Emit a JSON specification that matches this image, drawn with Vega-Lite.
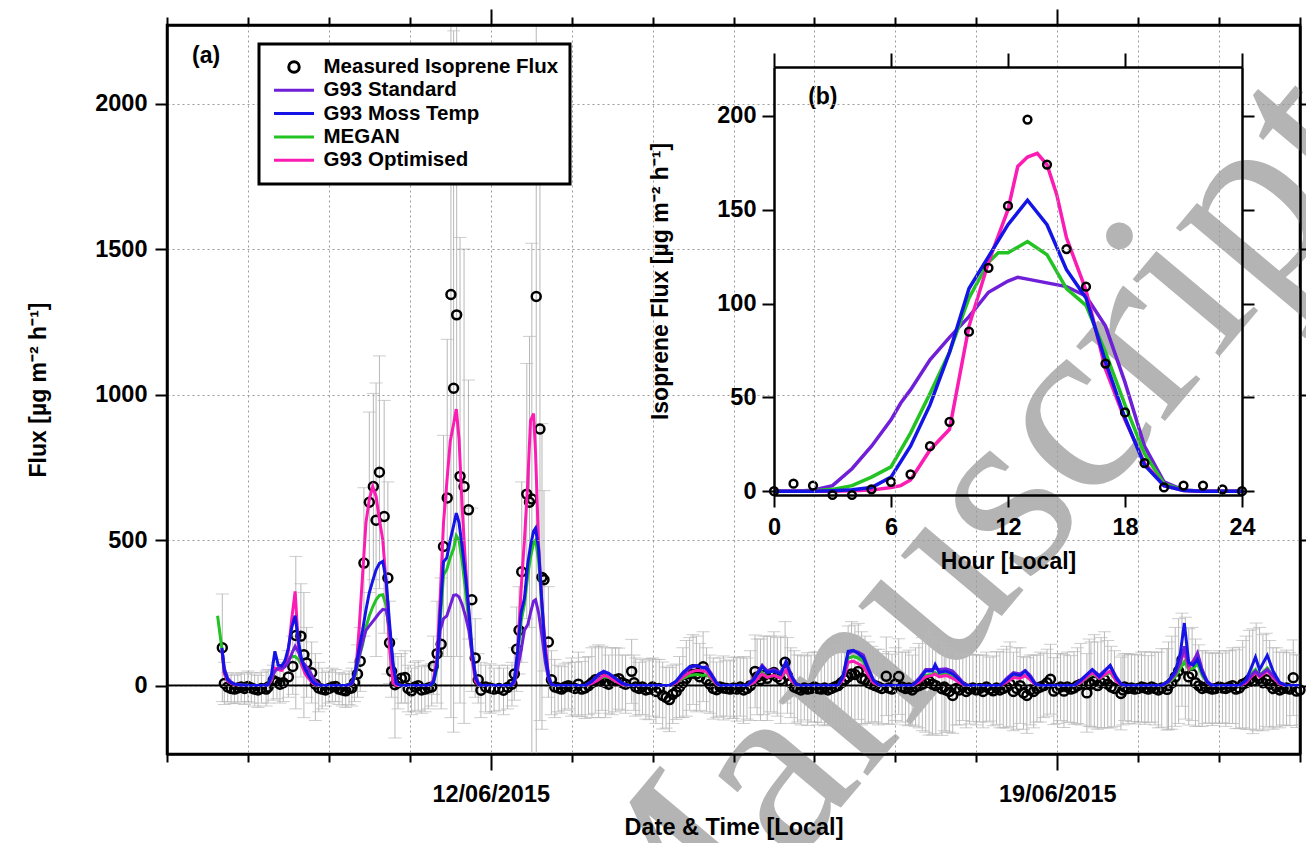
{
"$schema": "https://vega.github.io/schema/vega-lite/v6.json",
"width": 1133, "height": 729,
"autosize": {"type": "none"},
"padding": {"left": 167, "top": 25, "right": 6, "bottom": 89},
"background": "white",
"config": {
  "font": "Liberation Sans",
  "view": {"stroke": "black", "strokeWidth": 2.5},
  "axis": {"labelFont": "Liberation Sans", "labelFontSize": 23.5, "labelFontWeight": "bold", "labelColor": "black",
    "titleFont": "Liberation Sans", "titleFontSize": 23, "titleFontWeight": "bold", "titleColor": "black",
    "tickColor": "black", "tickWidth": 2, "domainColor": "black", "domainWidth": 2.5,
    "gridColor": "#9a9a9a", "gridDash": [2, 3], "gridWidth": 1, "labelFlush": false, "labelOverlap": false, "zindex": 1}
},
"datasets": {
"meas": [
{"t":"2015-06-08T16:24","m":130,"lo":-55,"hi":315},
{"t":"2015-06-08T17:00","m":7,"lo":-65,"hi":80},
{"t":"2015-06-08T18:00","m":-5,"lo":-55,"hi":45},
{"t":"2015-06-08T19:00","m":-10,"lo":-60,"hi":40},
{"t":"2015-06-08T20:00","m":-12,"lo":-62,"hi":35},
{"t":"2015-06-08T21:00","m":-8,"lo":-60,"hi":40},
{"t":"2015-06-08T22:00","m":-5,"lo":-55,"hi":45},
{"t":"2015-06-08T23:00","m":-10,"lo":-65,"hi":40},
{"t":"2015-06-09T00:00","m":-3,"lo":-55,"hi":50},
{"t":"2015-06-09T01:00","m":-8,"lo":-60,"hi":45},
{"t":"2015-06-09T02:00","m":-12,"lo":-70,"hi":40},
{"t":"2015-06-09T03:00","m":-15,"lo":-75,"hi":35},
{"t":"2015-06-09T04:00","m":-10,"lo":-60,"hi":45},
{"t":"2015-06-09T05:24","m":-12,"lo":-70,"hi":50},
{"t":"2015-06-09T06:00","m":-5,"lo":-60,"hi":55},
{"t":"2015-06-09T07:30","m":18,"lo":-50,"hi":70},
{"t":"2015-06-09T08:36","m":12,"lo":-45,"hi":80},
{"t":"2015-06-09T09:30","m":5,"lo":-60,"hi":70},
{"t":"2015-06-09T10:30","m":10,"lo":-55,"hi":90},
{"t":"2015-06-09T12:00","m":30,"lo":-40,"hi":120},
{"t":"2015-06-09T13:18","m":66,"lo":-30,"hi":170},
{"t":"2015-06-09T14:12","m":172,"lo":-80,"hi":444},
{"t":"2015-06-09T15:42","m":170,"lo":30,"hi":350},
{"t":"2015-06-09T16:36","m":106,"lo":-110,"hi":320},
{"t":"2015-06-09T17:24","m":78,"lo":-40,"hi":200},
{"t":"2015-06-09T18:54","m":44,"lo":-60,"hi":150},
{"t":"2015-06-09T20:00","m":5,"lo":-120,"hi":110},
{"t":"2015-06-09T21:00","m":-8,"lo":-90,"hi":80},
{"t":"2015-06-09T22:00","m":-12,"lo":-80,"hi":60},
{"t":"2015-06-09T23:00","m":-15,"lo":-70,"hi":45},
{"t":"2015-06-10T00:00","m":-10,"lo":-60,"hi":50},
{"t":"2015-06-10T01:00","m":-5,"lo":-55,"hi":60},
{"t":"2015-06-10T02:00","m":-3,"lo":-55,"hi":55},
{"t":"2015-06-10T03:00","m":-12,"lo":-65,"hi":45},
{"t":"2015-06-10T04:00","m":-15,"lo":-70,"hi":40},
{"t":"2015-06-10T05:00","m":-18,"lo":-75,"hi":40},
{"t":"2015-06-10T06:00","m":-10,"lo":-65,"hi":50},
{"t":"2015-06-10T06:48","m":-8,"lo":-70,"hi":60},
{"t":"2015-06-10T07:36","m":10,"lo":-55,"hi":80},
{"t":"2015-06-10T08:30","m":40,"lo":-40,"hi":140},
{"t":"2015-06-10T09:18","m":84,"lo":-20,"hi":200},
{"t":"2015-06-10T10:24","m":421,"lo":170,"hi":680},
{"t":"2015-06-10T12:00","m":630,"lo":320,"hi":940},
{"t":"2015-06-10T13:12","m":684,"lo":364,"hi":1004},
{"t":"2015-06-10T14:00","m":568,"lo":100,"hi":1040},
{"t":"2015-06-10T15:00","m":733,"lo":333,"hi":1133},
{"t":"2015-06-10T16:24","m":581,"lo":180,"hi":980},
{"t":"2015-06-10T17:30","m":370,"lo":40,"hi":700},
{"t":"2015-06-10T18:00","m":147,"lo":7,"hi":290},
{"t":"2015-06-10T18:36","m":49,"lo":-40,"hi":160},
{"t":"2015-06-10T19:36","m":3,"lo":-180,"hi":110},
{"t":"2015-06-10T20:30","m":10,"lo":-80,"hi":100},
{"t":"2015-06-10T21:30","m":25,"lo":-60,"hi":110},
{"t":"2015-06-10T22:36","m":28,"lo":-60,"hi":120},
{"t":"2015-06-10T23:30","m":-10,"lo":-90,"hi":70},
{"t":"2015-06-11T00:30","m":-18,"lo":-100,"hi":60},
{"t":"2015-06-11T01:30","m":-5,"lo":-90,"hi":80},
{"t":"2015-06-11T02:30","m":0,"lo":-85,"hi":85},
{"t":"2015-06-11T03:30","m":-15,"lo":-95,"hi":65},
{"t":"2015-06-11T04:30","m":-12,"lo":-90,"hi":70},
{"t":"2015-06-11T05:30","m":-8,"lo":-80,"hi":70},
{"t":"2015-06-11T06:30","m":-5,"lo":-70,"hi":75},
{"t":"2015-06-11T07:00","m":67,"lo":-30,"hi":170},
{"t":"2015-06-11T08:06","m":110,"lo":-60,"hi":290},
{"t":"2015-06-11T09:18","m":142,"lo":-80,"hi":370},
{"t":"2015-06-11T10:00","m":478,"lo":100,"hi":860},
{"t":"2015-06-11T11:06","m":645,"lo":100,"hi":1190},
{"t":"2015-06-11T12:12","m":1344,"lo":-110,"hi":2800},
{"t":"2015-06-11T13:00","m":1022,"lo":-160,"hi":2250},
{"t":"2015-06-11T13:54","m":1274,"lo":100,"hi":2450},
{"t":"2015-06-11T14:54","m":719,"lo":-60,"hi":1540},
{"t":"2015-06-11T16:06","m":684,"lo":-130,"hi":1500},
{"t":"2015-06-11T17:24","m":604,"lo":160,"hi":1050},
{"t":"2015-06-11T18:24","m":295,"lo":-20,"hi":610},
{"t":"2015-06-11T19:24","m":95,"lo":-40,"hi":230},
{"t":"2015-06-11T20:18","m":20,"lo":-60,"hi":110},
{"t":"2015-06-11T21:06","m":-16,"lo":-110,"hi":80},
{"t":"2015-06-11T22:30","m":-5,"lo":-90,"hi":70},
{"t":"2015-06-11T23:48","m":-8,"lo":-95,"hi":75},
{"t":"2015-06-12T01:00","m":-12,"lo":-90,"hi":60},
{"t":"2015-06-12T02:30","m":-10,"lo":-85,"hi":70},
{"t":"2015-06-12T03:48","m":-16,"lo":-100,"hi":60},
{"t":"2015-06-12T05:00","m":-6,"lo":-80,"hi":70},
{"t":"2015-06-12T06:18","m":5,"lo":-70,"hi":80},
{"t":"2015-06-12T07:00","m":40,"lo":-50,"hi":130},
{"t":"2015-06-12T07:42","m":125,"lo":-20,"hi":270},
{"t":"2015-06-12T08:24","m":190,"lo":40,"hi":340},
{"t":"2015-06-12T09:12","m":391,"lo":80,"hi":700},
{"t":"2015-06-12T10:42","m":658,"lo":230,"hi":1107},
{"t":"2015-06-12T11:30","m":630,"lo":200,"hi":1200},
{"t":"2015-06-12T12:12","m":641,"lo":-240,"hi":1520},
{"t":"2015-06-12T13:30","m":1337,"lo":-240,"hi":2900},
{"t":"2015-06-12T14:36","m":882,"lo":-120,"hi":1800},
{"t":"2015-06-12T15:12","m":372,"lo":-150,"hi":900},
{"t":"2015-06-12T15:48","m":364,"lo":50,"hi":670},
{"t":"2015-06-12T17:06","m":150,"lo":-40,"hi":340},
{"t":"2015-06-12T18:00","m":20,"lo":-100,"hi":120},
{"t":"2015-06-12T19:00","m":-5,"lo":-110,"hi":90},
{"t":"2015-06-12T20:00","m":-8,"lo":-90,"hi":70},
{"t":"2015-06-12T21:00","m":-12,"lo":-95,"hi":65},
{"t":"2015-06-12T22:00","m":-5,"lo":-85,"hi":75},
{"t":"2015-06-12T23:00","m":0,"lo":-80,"hi":80},
{"t":"2015-06-13T00:00","m":-5,"lo":-105,"hi":95},
{"t":"2015-06-13T01:00","m":-10,"lo":-100,"hi":80},
{"t":"2015-06-13T02:00","m":5,"lo":-105,"hi":115},
{"t":"2015-06-13T03:00","m":-12,"lo":-107,"hi":83},
{"t":"2015-06-13T04:00","m":-8,"lo":-113,"hi":97},
{"t":"2015-06-13T05:00","m":0,"lo":-100,"hi":100},
{"t":"2015-06-13T06:00","m":10,"lo":-110,"hi":130},
{"t":"2015-06-13T07:00","m":20,"lo":-95,"hi":135},
{"t":"2015-06-13T08:00","m":15,"lo":-110,"hi":140},
{"t":"2015-06-13T09:00","m":25,"lo":-85,"hi":135},
{"t":"2015-06-13T10:00","m":10,"lo":-110,"hi":130},
{"t":"2015-06-13T11:00","m":5,"lo":-95,"hi":105},
{"t":"2015-06-13T12:00","m":15,"lo":-100,"hi":130},
{"t":"2015-06-13T13:00","m":20,"lo":-90,"hi":130},
{"t":"2015-06-13T14:00","m":24,"lo":-81,"hi":129},
{"t":"2015-06-13T15:00","m":10,"lo":-85,"hi":105},
{"t":"2015-06-13T16:00","m":5,"lo":-95,"hi":105},
{"t":"2015-06-13T17:48","m":49,"lo":-61,"hi":159},
{"t":"2015-06-13T18:30","m":10,"lo":-85,"hi":105},
{"t":"2015-06-13T19:00","m":-5,"lo":-105,"hi":95},
{"t":"2015-06-13T20:00","m":-10,"lo":-100,"hi":80},
{"t":"2015-06-13T21:00","m":-5,"lo":-100,"hi":90},
{"t":"2015-06-13T22:00","m":-15,"lo":-115,"hi":85},
{"t":"2015-06-13T23:00","m":-12,"lo":-117,"hi":93},
{"t":"2015-06-14T00:00","m":-5,"lo":-105,"hi":95},
{"t":"2015-06-14T01:00","m":-20,"lo":-130,"hi":90},
{"t":"2015-06-14T02:00","m":-10,"lo":-110,"hi":90},
{"t":"2015-06-14T03:00","m":-34,"lo":-149,"hi":81},
{"t":"2015-06-14T04:00","m":-41,"lo":-146,"hi":64},
{"t":"2015-06-14T05:00","m":-48,"lo":-158,"hi":62},
{"t":"2015-06-14T06:00","m":-30,"lo":-130,"hi":70},
{"t":"2015-06-14T07:00","m":-21,"lo":-116,"hi":74},
{"t":"2015-06-14T08:00","m":-5,"lo":-110,"hi":100},
{"t":"2015-06-14T09:00","m":10,"lo":-110,"hi":130},
{"t":"2015-06-14T10:00","m":25,"lo":-105,"hi":155},
{"t":"2015-06-14T11:00","m":40,"lo":-85,"hi":165},
{"t":"2015-06-14T12:00","m":55,"lo":-65,"hi":175},
{"t":"2015-06-14T13:00","m":40,"lo":-90,"hi":170},
{"t":"2015-06-14T14:00","m":30,"lo":-85,"hi":145},
{"t":"2015-06-14T15:00","m":65,"lo":-55,"hi":185},
{"t":"2015-06-14T16:00","m":20,"lo":-90,"hi":130},
{"t":"2015-06-14T17:00","m":5,"lo":-95,"hi":105},
{"t":"2015-06-14T18:00","m":-10,"lo":-115,"hi":95},
{"t":"2015-06-14T19:00","m":-14,"lo":-109,"hi":81},
{"t":"2015-06-14T20:00","m":-5,"lo":-105,"hi":95},
{"t":"2015-06-14T21:00","m":-8,"lo":-118,"hi":102},
{"t":"2015-06-14T22:00","m":-10,"lo":-105,"hi":85},
{"t":"2015-06-14T23:00","m":-12,"lo":-112,"hi":88},
{"t":"2015-06-15T00:00","m":-8,"lo":-113,"hi":97},
{"t":"2015-06-15T01:00","m":-12,"lo":-122,"hi":98},
{"t":"2015-06-15T02:00","m":-5,"lo":-105,"hi":95},
{"t":"2015-06-15T03:00","m":-15,"lo":-130,"hi":100},
{"t":"2015-06-15T04:00","m":-10,"lo":-115,"hi":95},
{"t":"2015-06-15T05:00","m":0,"lo":-120,"hi":120},
{"t":"2015-06-15T06:24","m":49,"lo":-76,"hi":174},
{"t":"2015-06-15T07:00","m":30,"lo":-100,"hi":160},
{"t":"2015-06-15T08:00","m":20,"lo":-120,"hi":160},
{"t":"2015-06-15T09:00","m":35,"lo":-100,"hi":170},
{"t":"2015-06-15T10:00","m":25,"lo":-120,"hi":170},
{"t":"2015-06-15T11:00","m":40,"lo":-90,"hi":170},
{"t":"2015-06-15T12:00","m":45,"lo":-95,"hi":185},
{"t":"2015-06-15T13:00","m":30,"lo":-105,"hi":165},
{"t":"2015-06-15T14:00","m":20,"lo":-130,"hi":170},
{"t":"2015-06-15T15:18","m":80,"lo":-60,"hi":220},
{"t":"2015-06-15T16:00","m":35,"lo":-95,"hi":165},
{"t":"2015-06-15T17:00","m":10,"lo":-110,"hi":130},
{"t":"2015-06-15T18:00","m":-5,"lo":-130,"hi":120},
{"t":"2015-06-15T19:00","m":-10,"lo":-125,"hi":105},
{"t":"2015-06-15T20:00","m":-15,"lo":-135,"hi":105},
{"t":"2015-06-15T21:00","m":-8,"lo":-118,"hi":102},
{"t":"2015-06-15T22:00","m":-12,"lo":-137,"hi":113},
{"t":"2015-06-15T23:00","m":-10,"lo":-125,"hi":105},
{"t":"2015-06-16T00:00","m":-5,"lo":-125,"hi":115},
{"t":"2015-06-16T01:00","m":-10,"lo":-135,"hi":115},
{"t":"2015-06-16T02:00","m":-12,"lo":-127,"hi":103},
{"t":"2015-06-16T03:00","m":-8,"lo":-138,"hi":122},
{"t":"2015-06-16T04:00","m":-15,"lo":-135,"hi":105},
{"t":"2015-06-16T05:00","m":-10,"lo":-135,"hi":115},
{"t":"2015-06-16T06:00","m":-5,"lo":-135,"hi":125},
{"t":"2015-06-16T07:00","m":0,"lo":-140,"hi":140},
{"t":"2015-06-16T08:00","m":10,"lo":-140,"hi":160},
{"t":"2015-06-16T09:00","m":20,"lo":-140,"hi":180},
{"t":"2015-06-16T10:00","m":30,"lo":-145,"hi":205},
{"t":"2015-06-16T11:00","m":40,"lo":-140,"hi":220},
{"t":"2015-06-16T12:00","m":38,"lo":-132,"hi":208},
{"t":"2015-06-16T13:00","m":49,"lo":-116,"hi":214},
{"t":"2015-06-16T14:00","m":25,"lo":-135,"hi":185},
{"t":"2015-06-16T15:00","m":20,"lo":-130,"hi":170},
{"t":"2015-06-16T16:00","m":10,"lo":-130,"hi":150},
{"t":"2015-06-16T17:00","m":5,"lo":-125,"hi":135},
{"t":"2015-06-16T18:00","m":0,"lo":-125,"hi":125},
{"t":"2015-06-16T19:00","m":-5,"lo":-135,"hi":125},
{"t":"2015-06-16T20:00","m":-10,"lo":-130,"hi":110},
{"t":"2015-06-16T21:18","m":32,"lo":-103,"hi":167},
{"t":"2015-06-16T22:00","m":-8,"lo":-133,"hi":117},
{"t":"2015-06-16T23:00","m":-12,"lo":-132,"hi":108},
{"t":"2015-06-17T00:00","m":5,"lo":-120,"hi":130},
{"t":"2015-06-17T01:00","m":31,"lo":-99,"hi":161},
{"t":"2015-06-17T02:00","m":-5,"lo":-125,"hi":115},
{"t":"2015-06-17T03:00","m":-10,"lo":-135,"hi":115},
{"t":"2015-06-17T04:00","m":-8,"lo":-138,"hi":122},
{"t":"2015-06-17T05:00","m":-15,"lo":-135,"hi":105},
{"t":"2015-06-17T06:00","m":-5,"lo":-140,"hi":130},
{"t":"2015-06-17T07:00","m":0,"lo":-145,"hi":145},
{"t":"2015-06-17T08:00","m":5,"lo":-155,"hi":165},
{"t":"2015-06-17T09:00","m":10,"lo":-160,"hi":180},
{"t":"2015-06-17T10:00","m":15,"lo":-170,"hi":200},
{"t":"2015-06-17T11:00","m":5,"lo":-170,"hi":180},
{"t":"2015-06-17T12:00","m":0,"lo":-165,"hi":165},
{"t":"2015-06-17T13:48","m":-11,"lo":-171,"hi":149},
{"t":"2015-06-17T14:30","m":-5,"lo":-155,"hi":145},
{"t":"2015-06-17T15:00","m":-15,"lo":-160,"hi":130},
{"t":"2015-06-17T16:00","m":-20,"lo":-160,"hi":120},
{"t":"2015-06-17T17:00","m":-34,"lo":-164,"hi":96},
{"t":"2015-06-17T18:00","m":-10,"lo":-135,"hi":115},
{"t":"2015-06-17T19:00","m":-15,"lo":-135,"hi":105},
{"t":"2015-06-17T20:00","m":-5,"lo":-120,"hi":110},
{"t":"2015-06-17T21:00","m":-20,"lo":-145,"hi":105},
{"t":"2015-06-17T22:00","m":-12,"lo":-132,"hi":108},
{"t":"2015-06-17T23:00","m":-8,"lo":-123,"hi":107},
{"t":"2015-06-18T00:00","m":-15,"lo":-135,"hi":105},
{"t":"2015-06-18T01:00","m":-10,"lo":-125,"hi":105},
{"t":"2015-06-18T02:00","m":-20,"lo":-145,"hi":105},
{"t":"2015-06-18T03:00","m":-5,"lo":-125,"hi":115},
{"t":"2015-06-18T04:00","m":-12,"lo":-122,"hi":98},
{"t":"2015-06-18T05:00","m":-18,"lo":-138,"hi":102},
{"t":"2015-06-18T06:00","m":-8,"lo":-133,"hi":117},
{"t":"2015-06-18T07:00","m":-15,"lo":-145,"hi":115},
{"t":"2015-06-18T08:00","m":-10,"lo":-145,"hi":125},
{"t":"2015-06-18T09:00","m":-5,"lo":-145,"hi":135},
{"t":"2015-06-18T10:00","m":5,"lo":-140,"hi":150},
{"t":"2015-06-18T11:00","m":-20,"lo":-155,"hi":115},
{"t":"2015-06-18T12:00","m":-10,"lo":-150,"hi":130},
{"t":"2015-06-18T13:00","m":0,"lo":-130,"hi":130},
{"t":"2015-06-18T14:00","m":-25,"lo":-150,"hi":100},
{"t":"2015-06-18T15:00","m":-34,"lo":-164,"hi":96},
{"t":"2015-06-18T16:00","m":-15,"lo":-135,"hi":105},
{"t":"2015-06-18T17:00","m":-20,"lo":-145,"hi":105},
{"t":"2015-06-18T18:00","m":-10,"lo":-125,"hi":105},
{"t":"2015-06-18T19:00","m":-5,"lo":-125,"hi":115},
{"t":"2015-06-18T20:00","m":0,"lo":-110,"hi":110},
{"t":"2015-06-18T21:00","m":10,"lo":-105,"hi":125},
{"t":"2015-06-18T22:00","m":22,"lo":-98,"hi":142},
{"t":"2015-06-18T23:00","m":-19,"lo":-134,"hi":96},
{"t":"2015-06-19T00:00","m":-10,"lo":-130,"hi":110},
{"t":"2015-06-19T01:00","m":-5,"lo":-120,"hi":110},
{"t":"2015-06-19T02:00","m":-19,"lo":-144,"hi":106},
{"t":"2015-06-19T03:00","m":-5,"lo":-125,"hi":115},
{"t":"2015-06-19T04:00","m":-12,"lo":-127,"hi":103},
{"t":"2015-06-19T05:00","m":-8,"lo":-133,"hi":117},
{"t":"2015-06-19T06:00","m":0,"lo":-130,"hi":130},
{"t":"2015-06-19T07:00","m":5,"lo":-135,"hi":145},
{"t":"2015-06-19T08:48","m":-25,"lo":-160,"hi":110},
{"t":"2015-06-19T09:30","m":10,"lo":-140,"hi":160},
{"t":"2015-06-19T10:00","m":5,"lo":-140,"hi":150},
{"t":"2015-06-19T11:00","m":15,"lo":-145,"hi":175},
{"t":"2015-06-19T12:00","m":0,"lo":-150,"hi":150},
{"t":"2015-06-19T13:00","m":10,"lo":-145,"hi":165},
{"t":"2015-06-19T14:00","m":20,"lo":-145,"hi":185},
{"t":"2015-06-19T15:00","m":5,"lo":-145,"hi":155},
{"t":"2015-06-19T16:00","m":-5,"lo":-145,"hi":135},
{"t":"2015-06-19T17:00","m":-10,"lo":-140,"hi":120},
{"t":"2015-06-19T18:54","m":-27,"lo":-152,"hi":98},
{"t":"2015-06-19T19:30","m":-15,"lo":-135,"hi":105},
{"t":"2015-06-19T20:00","m":-5,"lo":-120,"hi":110},
{"t":"2015-06-19T21:00","m":-10,"lo":-130,"hi":110},
{"t":"2015-06-19T22:00","m":-8,"lo":-123,"hi":107},
{"t":"2015-06-19T23:00","m":-12,"lo":-132,"hi":108},
{"t":"2015-06-20T00:00","m":-10,"lo":-125,"hi":105},
{"t":"2015-06-20T01:00","m":-5,"lo":-125,"hi":115},
{"t":"2015-06-20T02:00","m":-8,"lo":-133,"hi":117},
{"t":"2015-06-20T03:00","m":-12,"lo":-127,"hi":103},
{"t":"2015-06-20T04:00","m":-5,"lo":-125,"hi":115},
{"t":"2015-06-20T05:00","m":-10,"lo":-135,"hi":115},
{"t":"2015-06-20T06:00","m":-15,"lo":-145,"hi":115},
{"t":"2015-06-20T07:00","m":-8,"lo":-143,"hi":127},
{"t":"2015-06-20T08:36","m":-13,"lo":-153,"hi":127},
{"t":"2015-06-20T09:00","m":0,"lo":-150,"hi":150},
{"t":"2015-06-20T10:00","m":10,"lo":-150,"hi":170},
{"t":"2015-06-20T11:00","m":30,"lo":-140,"hi":200},
{"t":"2015-06-20T12:00","m":50,"lo":-130,"hi":230},
{"t":"2015-06-20T13:00","m":89,"lo":-71,"hi":249},
{"t":"2015-06-20T14:00","m":60,"lo":-115,"hi":235},
{"t":"2015-06-20T15:00","m":30,"lo":-135,"hi":195},
{"t":"2015-06-20T16:00","m":40,"lo":-120,"hi":200},
{"t":"2015-06-20T17:00","m":10,"lo":-140,"hi":160},
{"t":"2015-06-20T18:00","m":0,"lo":-140,"hi":140},
{"t":"2015-06-20T19:00","m":-10,"lo":-140,"hi":120},
{"t":"2015-06-20T20:00","m":-5,"lo":-130,"hi":120},
{"t":"2015-06-20T21:00","m":-8,"lo":-128,"hi":112},
{"t":"2015-06-20T22:00","m":-12,"lo":-137,"hi":113},
{"t":"2015-06-20T23:00","m":-10,"lo":-130,"hi":110},
{"t":"2015-06-21T00:00","m":-5,"lo":-130,"hi":120},
{"t":"2015-06-21T01:00","m":-8,"lo":-128,"hi":112},
{"t":"2015-06-21T02:00","m":-10,"lo":-140,"hi":120},
{"t":"2015-06-21T03:00","m":-5,"lo":-130,"hi":120},
{"t":"2015-06-21T04:00","m":0,"lo":-130,"hi":130},
{"t":"2015-06-21T05:00","m":-12,"lo":-147,"hi":123},
{"t":"2015-06-21T06:00","m":-8,"lo":-148,"hi":132},
{"t":"2015-06-21T07:00","m":5,"lo":-145,"hi":155},
{"t":"2015-06-21T08:00","m":10,"lo":-150,"hi":170},
{"t":"2015-06-21T09:00","m":20,"lo":-150,"hi":190},
{"t":"2015-06-21T10:00","m":15,"lo":-165,"hi":195},
{"t":"2015-06-21T11:00","m":30,"lo":-155,"hi":215},
{"t":"2015-06-21T12:00","m":25,"lo":-150,"hi":200},
{"t":"2015-06-21T13:00","m":10,"lo":-155,"hi":175},
{"t":"2015-06-21T14:00","m":20,"lo":-140,"hi":180},
{"t":"2015-06-21T15:00","m":5,"lo":-145,"hi":155},
{"t":"2015-06-21T16:00","m":-10,"lo":-150,"hi":130},
{"t":"2015-06-21T17:00","m":-5,"lo":-140,"hi":130},
{"t":"2015-06-21T18:00","m":-15,"lo":-145,"hi":115},
{"t":"2015-06-21T19:00","m":-10,"lo":-135,"hi":115},
{"t":"2015-06-21T20:00","m":-8,"lo":-138,"hi":122},
{"t":"2015-06-21T21:00","m":-12,"lo":-137,"hi":113},
{"t":"2015-06-21T22:00","m":27,"lo":-103,"hi":157},
{"t":"2015-06-21T23:00","m":-19,"lo":-144,"hi":106},
{"t":"2015-06-22T00:00","m":-15,"lo":-135,"hi":105}
],
"mod": [
{"t":"2015-06-08T15:00","s":null,"mt":null,"me":240,"o":null},
{"t":"2015-06-08T16:18","s":125,"mt":130,"me":125,"o":120},
{"t":"2015-06-08T17:00","s":60,"mt":50,"me":45,"o":40},
{"t":"2015-06-08T18:00","s":25,"mt":20,"me":18,"o":15},
{"t":"2015-06-08T19:00","s":12,"mt":10,"me":10,"o":8},
{"t":"2015-06-08T20:00","s":6,"mt":5,"me":5,"o":4},
{"t":"2015-06-08T22:00","s":2,"mt":2,"me":2,"o":1},
{"t":"2015-06-09T00:00","s":0,"mt":0,"me":0,"o":0},
{"t":"2015-06-09T05:00","s":0,"mt":0,"me":0,"o":0},
{"t":"2015-06-09T06:00","s":5,"mt":3,"me":4,"o":2},
{"t":"2015-06-09T07:00","s":25,"mt":40,"me":20,"o":20},
{"t":"2015-06-09T08:00","s":50,"mt":118,"me":55,"o":60},
{"t":"2015-06-09T09:00","s":60,"mt":70,"me":60,"o":55},
{"t":"2015-06-09T10:00","s":60,"mt":68,"me":58,"o":52},
{"t":"2015-06-09T11:00","s":65,"mt":85,"me":70,"o":68},
{"t":"2015-06-09T12:00","s":80,"mt":130,"me":90,"o":120},
{"t":"2015-06-09T13:00","s":110,"mt":200,"me":100,"o":230},
{"t":"2015-06-09T14:00","s":135,"mt":240,"me":100,"o":324},
{"t":"2015-06-09T15:00","s":115,"mt":150,"me":90,"o":130},
{"t":"2015-06-09T16:00","s":85,"mt":85,"me":70,"o":70},
{"t":"2015-06-09T17:00","s":70,"mt":55,"me":50,"o":40},
{"t":"2015-06-09T18:00","s":55,"mt":35,"me":35,"o":25},
{"t":"2015-06-09T19:00","s":35,"mt":15,"me":18,"o":10},
{"t":"2015-06-09T20:00","s":15,"mt":5,"me":6,"o":3},
{"t":"2015-06-09T21:00","s":5,"mt":1,"me":2,"o":1},
{"t":"2015-06-09T22:00","s":0,"mt":0,"me":0,"o":0},
{"t":"2015-06-10T05:00","s":0,"mt":0,"me":0,"o":0},
{"t":"2015-06-10T06:00","s":3,"mt":2,"me":2,"o":1},
{"t":"2015-06-10T07:00","s":15,"mt":10,"me":10,"o":8},
{"t":"2015-06-10T08:00","s":50,"mt":60,"me":40,"o":50},
{"t":"2015-06-10T09:00","s":100,"mt":130,"me":100,"o":200},
{"t":"2015-06-10T10:00","s":150,"mt":190,"me":140,"o":380},
{"t":"2015-06-10T11:00","s":190,"mt":260,"me":200,"o":560},
{"t":"2015-06-10T12:00","s":205,"mt":320,"me":240,"o":640},
{"t":"2015-06-10T13:00","s":220,"mt":360,"me":270,"o":684},
{"t":"2015-06-10T14:00","s":235,"mt":398,"me":295,"o":650},
{"t":"2015-06-10T15:00","s":250,"mt":420,"me":310,"o":570},
{"t":"2015-06-10T16:00","s":262,"mt":427,"me":312,"o":500},
{"t":"2015-06-10T17:00","s":260,"mt":360,"me":275,"o":350},
{"t":"2015-06-10T18:00","s":195,"mt":215,"me":170,"o":130},
{"t":"2015-06-10T19:00","s":70,"mt":79,"me":57,"o":10},
{"t":"2015-06-10T20:00","s":8,"mt":8,"me":6,"o":0},
{"t":"2015-06-10T21:00","s":2,"mt":1,"me":1,"o":0},
{"t":"2015-06-10T22:00","s":0,"mt":0,"me":0,"o":0},
{"t":"2015-06-11T05:00","s":0,"mt":0,"me":0,"o":0},
{"t":"2015-06-11T06:00","s":2,"mt":2,"me":2,"o":1},
{"t":"2015-06-11T07:00","s":15,"mt":10,"me":8,"o":20},
{"t":"2015-06-11T08:00","s":70,"mt":66,"me":55,"o":90},
{"t":"2015-06-11T08:30","s":120,"mt":150,"me":130,"o":190},
{"t":"2015-06-11T09:00","s":190,"mt":250,"me":220,"o":300},
{"t":"2015-06-11T10:00","s":230,"mt":425,"me":380,"o":560},
{"t":"2015-06-11T11:00","s":240,"mt":440,"me":400,"o":700},
{"t":"2015-06-11T12:00","s":275,"mt":500,"me":440,"o":840},
{"t":"2015-06-11T13:00","s":310,"mt":550,"me":470,"o":900},
{"t":"2015-06-11T13:48","s":312,"mt":593,"me":515,"o":950},
{"t":"2015-06-11T14:36","s":305,"mt":560,"me":500,"o":850},
{"t":"2015-06-11T15:30","s":280,"mt":480,"me":430,"o":620},
{"t":"2015-06-11T16:30","s":240,"mt":380,"me":330,"o":420},
{"t":"2015-06-11T17:30","s":190,"mt":260,"me":220,"o":250},
{"t":"2015-06-11T18:30","s":110,"mt":120,"me":100,"o":90},
{"t":"2015-06-11T19:30","s":35,"mt":25,"me":25,"o":15},
{"t":"2015-06-11T20:30","s":5,"mt":3,"me":3,"o":1},
{"t":"2015-06-11T21:30","s":0,"mt":0,"me":0,"o":0},
{"t":"2015-06-12T06:00","s":0,"mt":0,"me":0,"o":0},
{"t":"2015-06-12T07:00","s":10,"mt":20,"me":15,"o":10},
{"t":"2015-06-12T08:00","s":60,"mt":120,"me":100,"o":120},
{"t":"2015-06-12T09:00","s":120,"mt":250,"me":220,"o":330},
{"t":"2015-06-12T10:00","s":190,"mt":300,"me":280,"o":500},
{"t":"2015-06-12T11:00","s":210,"mt":420,"me":380,"o":700},
{"t":"2015-06-12T11:48","s":250,"mt":480,"me":440,"o":910},
{"t":"2015-06-12T12:42","s":290,"mt":530,"me":490,"o":935},
{"t":"2015-06-12T13:18","s":295,"mt":541,"me":500,"o":800},
{"t":"2015-06-12T14:12","s":250,"mt":470,"me":430,"o":480},
{"t":"2015-06-12T15:12","s":170,"mt":280,"me":270,"o":280},
{"t":"2015-06-12T16:12","s":80,"mt":110,"me":100,"o":140},
{"t":"2015-06-12T17:12","s":20,"mt":30,"me":25,"o":30},
{"t":"2015-06-12T18:00","s":3,"mt":5,"me":3,"o":5},
{"t":"2015-06-12T19:00","s":0,"mt":0,"me":0,"o":0},
{"t":"2015-06-13T04:00","s":0,"mt":0,"me":0,"o":0},
{"t":"2015-06-13T06:00","s":15,"mt":15,"me":10,"o":8},
{"t":"2015-06-13T08:00","s":35,"mt":40,"me":22,"o":20},
{"t":"2015-06-13T09:30","s":49,"mt":49,"me":30,"o":35},
{"t":"2015-06-13T11:00","s":40,"mt":42,"me":28,"o":30},
{"t":"2015-06-13T13:00","s":25,"mt":25,"me":15,"o":15},
{"t":"2015-06-13T15:00","s":8,"mt":8,"me":5,"o":4},
{"t":"2015-06-13T17:00","s":0,"mt":0,"me":0,"o":0},
{"t":"2015-06-14T05:00","s":0,"mt":0,"me":0,"o":0},
{"t":"2015-06-14T07:00","s":15,"mt":15,"me":10,"o":10},
{"t":"2015-06-14T09:00","s":40,"mt":45,"me":25,"o":30},
{"t":"2015-06-14T11:00","s":60,"mt":65,"me":35,"o":45},
{"t":"2015-06-14T13:00","s":69,"mt":69,"me":38,"o":53},
{"t":"2015-06-14T15:00","s":60,"mt":62,"me":35,"o":50},
{"t":"2015-06-14T16:00","s":66,"mt":60,"me":38,"o":48},
{"t":"2015-06-14T17:30","s":40,"mt":35,"me":22,"o":25},
{"t":"2015-06-14T19:00","s":10,"mt":8,"me":5,"o":5},
{"t":"2015-06-14T20:00","s":0,"mt":0,"me":0,"o":0},
{"t":"2015-06-15T04:00","s":0,"mt":0,"me":0,"o":0},
{"t":"2015-06-15T06:00","s":25,"mt":20,"me":12,"o":10},
{"t":"2015-06-15T08:30","s":70,"mt":65,"me":45,"o":40},
{"t":"2015-06-15T10:00","s":50,"mt":45,"me":30,"o":28},
{"t":"2015-06-15T12:00","s":55,"mt":50,"me":35,"o":35},
{"t":"2015-06-15T14:00","s":45,"mt":40,"me":28,"o":25},
{"t":"2015-06-15T15:36","s":80,"mt":83,"me":50,"o":55},
{"t":"2015-06-15T17:00","s":40,"mt":35,"me":20,"o":20},
{"t":"2015-06-15T18:30","s":5,"mt":5,"me":3,"o":3},
{"t":"2015-06-15T20:00","s":0,"mt":0,"me":0,"o":0},
{"t":"2015-06-16T07:00","s":0,"mt":0,"me":0,"o":0},
{"t":"2015-06-16T08:30","s":30,"mt":35,"me":25,"o":20},
{"t":"2015-06-16T10:00","s":110,"mt":118,"me":95,"o":80},
{"t":"2015-06-16T11:30","s":120,"mt":121,"me":100,"o":84},
{"t":"2015-06-16T13:00","s":115,"mt":110,"me":95,"o":75},
{"t":"2015-06-16T14:30","s":105,"mt":95,"me":85,"o":65},
{"t":"2015-06-16T16:00","s":60,"mt":55,"me":45,"o":35},
{"t":"2015-06-16T17:30","s":20,"mt":18,"me":15,"o":10},
{"t":"2015-06-16T19:00","s":3,"mt":3,"me":2,"o":2},
{"t":"2015-06-16T20:00","s":0,"mt":0,"me":0,"o":0},
{"t":"2015-06-17T05:00","s":0,"mt":0,"me":0,"o":0},
{"t":"2015-06-17T07:00","s":25,"mt":20,"me":15,"o":12},
{"t":"2015-06-17T09:00","s":55,"mt":50,"me":35,"o":30},
{"t":"2015-06-17T11:00","s":55,"mt":50,"me":38,"o":35},
{"t":"2015-06-17T11:48","s":60,"mt":72,"me":45,"o":40},
{"t":"2015-06-17T13:00","s":55,"mt":45,"me":35,"o":30},
{"t":"2015-06-17T15:00","s":58,"mt":50,"me":40,"o":35},
{"t":"2015-06-17T17:00","s":50,"mt":40,"me":30,"o":25},
{"t":"2015-06-17T19:00","s":25,"mt":20,"me":15,"o":10},
{"t":"2015-06-17T20:30","s":5,"mt":3,"me":3,"o":2},
{"t":"2015-06-17T22:00","s":0,"mt":0,"me":0,"o":0},
{"t":"2015-06-18T07:00","s":0,"mt":0,"me":0,"o":0},
{"t":"2015-06-18T09:00","s":25,"mt":20,"me":15,"o":12},
{"t":"2015-06-18T11:00","s":45,"mt":40,"me":30,"o":28},
{"t":"2015-06-18T13:00","s":40,"mt":35,"me":28,"o":25},
{"t":"2015-06-18T14:30","s":52,"mt":50,"me":35,"o":35},
{"t":"2015-06-18T16:00","s":35,"mt":30,"me":22,"o":20},
{"t":"2015-06-18T17:30","s":8,"mt":6,"me":4,"o":4},
{"t":"2015-06-18T19:00","s":0,"mt":0,"me":0,"o":0},
{"t":"2015-06-19T05:00","s":0,"mt":0,"me":0,"o":0},
{"t":"2015-06-19T07:00","s":20,"mt":18,"me":12,"o":12},
{"t":"2015-06-19T10:24","s":55,"mt":55,"me":41,"o":45},
{"t":"2015-06-19T12:30","s":35,"mt":30,"me":25,"o":25},
{"t":"2015-06-19T15:42","s":69,"mt":69,"me":45,"o":50},
{"t":"2015-06-19T17:30","s":30,"mt":25,"me":18,"o":15},
{"t":"2015-06-19T19:00","s":5,"mt":4,"me":3,"o":3},
{"t":"2015-06-19T20:30","s":0,"mt":0,"me":0,"o":0},
{"t":"2015-06-20T07:00","s":0,"mt":0,"me":0,"o":0},
{"t":"2015-06-20T09:00","s":15,"mt":15,"me":10,"o":12},
{"t":"2015-06-20T11:00","s":40,"mt":50,"me":30,"o":40},
{"t":"2015-06-20T12:30","s":80,"mt":110,"me":60,"o":80},
{"t":"2015-06-20T13:42","s":135,"mt":215,"me":83,"o":118},
{"t":"2015-06-20T15:00","s":70,"mt":80,"me":55,"o":60},
{"t":"2015-06-20T16:18","s":80,"mt":70,"me":60,"o":85},
{"t":"2015-06-20T17:36","s":112,"mt":90,"me":75,"o":108},
{"t":"2015-06-20T19:00","s":55,"mt":45,"me":35,"o":45},
{"t":"2015-06-20T20:30","s":15,"mt":12,"me":10,"o":10},
{"t":"2015-06-20T22:00","s":0,"mt":0,"me":0,"o":0},
{"t":"2015-06-21T06:00","s":0,"mt":0,"me":0,"o":0},
{"t":"2015-06-21T08:00","s":15,"mt":20,"me":15,"o":10},
{"t":"2015-06-21T09:30","s":35,"mt":60,"me":40,"o":30},
{"t":"2015-06-21T10:48","s":50,"mt":98,"me":55,"o":45},
{"t":"2015-06-21T12:00","s":35,"mt":55,"me":35,"o":30},
{"t":"2015-06-21T14:18","s":55,"mt":104,"me":60,"o":50},
{"t":"2015-06-21T16:00","s":35,"mt":50,"me":30,"o":28},
{"t":"2015-06-21T18:00","s":10,"mt":10,"me":8,"o":5},
{"t":"2015-06-21T20:00","s":0,"mt":0,"me":0,"o":0},
{"t":"2015-06-22T00:00","s":0,"mt":0,"me":0,"o":0}
],
"diur": [
{"h":0,"m":0,"s":0,"mt":0,"me":0,"o":0},
{"h":1,"m":4,"s":0,"mt":0,"me":0,"o":0},
{"h":2,"m":3,"s":0.5,"mt":0,"me":0.3,"o":0},
{"h":3,"m":-2,"s":3,"mt":0.3,"me":1,"o":0},
{"h":4,"m":-2,"s":12,"mt":0.8,"me":3,"o":0.2},
{"h":5,"m":1,"s":24,"mt":2,"me":7.5,"o":0.6},
{"h":6,"m":5,"s":38,"mt":7.5,"me":13,"o":2},
{"h":6.5,"m":null,"s":47,"mt":null,"me":null,"o":3},
{"h":7,"m":9,"s":54,"mt":24,"me":31,"o":6},
{"h":8,"m":24,"s":70,"mt":46,"me":52,"o":22},
{"h":9,"m":37,"s":82,"mt":74,"me":74,"o":33},
{"h":10,"m":85,"s":93,"mt":108,"me":103,"o":88},
{"h":11,"m":119,"s":106,"mt":125,"me":122,"o":122},
{"h":11.5,"m":null,"s":null,"mt":null,"me":127,"o":null},
{"h":12,"m":152,"s":112,"mt":142,"me":127,"o":150},
{"h":12.5,"m":null,"s":114,"mt":null,"me":null,"o":173},
{"h":13,"m":198,"s":113,"mt":155,"me":133,"o":178},
{"h":13.5,"m":null,"s":null,"mt":null,"me":null,"o":180},
{"h":14,"m":174,"s":111,"mt":142,"me":126,"o":174},
{"h":14.5,"m":null,"s":null,"mt":null,"me":null,"o":158},
{"h":15,"m":129,"s":109,"mt":118,"me":108,"o":135},
{"h":16,"m":109,"s":104,"mt":103,"me":99,"o":107},
{"h":17,"m":68,"s":88,"mt":69,"me":74,"o":65},
{"h":18,"m":42,"s":58,"mt":39,"me":46,"o":38},
{"h":19,"m":15,"s":24,"mt":14,"me":20,"o":15},
{"h":20,"m":2,"s":5,"mt":3,"me":4,"o":3},
{"h":21,"m":3,"s":0.6,"mt":0.4,"me":0.5,"o":0.4},
{"h":22,"m":3,"s":0,"mt":0,"me":0,"o":0},
{"h":23,"m":1,"s":0,"mt":0,"me":0,"o":0},
{"h":24,"m":0,"s":0,"mt":0,"me":0,"o":0}
]
},
"layer": [
{
 "layer": [
  {
   "data": {"values": [{}]},
   "mark": {"type": "text", "text": "Manuscript", "font": "Liberation Serif", "fontSize": 253, "color": "#b4b4b4", "align": "right", "baseline": "alphabetic", "angle": 310},
   "encoding": {
     "x": {"datum": {"year": 2015, "month": 6, "date": 23, "hours": 2}, "type": "temporal", "axis": null},
     "y": {"datum": 1820, "type": "quantitative", "axis": null}
   }
  },
  {
   "data": {"name": "meas"},
   "mark": {"type": "errorbar", "ticks": true, "color": "#b8b8b8", "thickness": 1, "size": 13, "clip": true},
   "encoding": {
     "x": {"field": "t", "type": "temporal",
       "scale": {"domain": [{"year": 2015, "month": 6, "date": 8}, {"year": 2015, "month": 6, "date": 22}], "nice": false},
       "axis": {"orient": "bottom", "zindex": 1, "title": "Date & Time [Local]", "titleFontSize": 23.5, "titlePadding": 10,
         "values": [{"year":2015,"month":6,"date":8},{"year":2015,"month":6,"date":9},{"year":2015,"month":6,"date":10},{"year":2015,"month":6,"date":11},{"year":2015,"month":6,"date":12},{"year":2015,"month":6,"date":13},{"year":2015,"month":6,"date":14},{"year":2015,"month":6,"date":15},{"year":2015,"month":6,"date":16},{"year":2015,"month":6,"date":17},{"year":2015,"month":6,"date":18},{"year":2015,"month":6,"date":19},{"year":2015,"month":6,"date":20},{"year":2015,"month":6,"date":21},{"year":2015,"month":6,"date":22}],
         "labelExpr": "date(datum.value) == 12 || date(datum.value) == 19 ? timeFormat(datum.value, '%d/%m/%Y') : ''",
         "labelPadding": 12,
         "tickSize": {"condition": {"test": "date(datum.value) == 12 || date(datum.value) == 19", "value": 16}, "value": 8},
         "grid": true}},
     "y": {"field": "lo", "type": "quantitative",
       "scale": {"domain": [-235, 2270], "nice": false, "zero": false},
       "axis": {"orient": "left", "zindex": 1, "title": "Flux [µg m⁻² h⁻¹]", "titlePadding": 44, "values": [0, 500, 1000, 1500, 2000], "format": "d", "tickSize": 12, "labelPadding": 8, "grid": true}},
     "y2": {"field": "hi"}
   }
  },
  {
   "data": {"values": [{}]},
   "mark": {"type": "rule", "color": "black", "strokeWidth": 2},
   "encoding": {"y": {"datum": 0, "type": "quantitative", "axis": null}}
  },
  {
   "data": {"name": "meas"},
   "mark": {"type": "point", "shape": "circle", "filled": false, "color": "black", "strokeWidth": 2.5, "size": 80, "opacity": 1},
   "encoding": {
     "x": {"field": "t", "type": "temporal",
       "axis": {"orient": "top", "zindex": 1, "title": null, "labels": false, "grid": false,
         "values": [{"year":2015,"month":6,"date":8},{"year":2015,"month":6,"date":9},{"year":2015,"month":6,"date":10},{"year":2015,"month":6,"date":11},{"year":2015,"month":6,"date":12},{"year":2015,"month":6,"date":13},{"year":2015,"month":6,"date":14},{"year":2015,"month":6,"date":15},{"year":2015,"month":6,"date":16},{"year":2015,"month":6,"date":17},{"year":2015,"month":6,"date":18},{"year":2015,"month":6,"date":19},{"year":2015,"month":6,"date":20},{"year":2015,"month":6,"date":21},{"year":2015,"month":6,"date":22}],
         "tickSize": {"condition": {"test": "date(datum.value) == 12 || date(datum.value) == 19", "value": 16}, "value": 8}}},
     "y": {"field": "m", "type": "quantitative",
       "axis": {"orient": "right", "zindex": 1, "title": null, "labels": false, "grid": false, "values": [0, 500, 1000, 1500, 2000], "tickSize": 8}}
   }
  },
  {
   "data": {"name": "mod"},
   "transform": [{"fold": ["o", "s", "me", "mt"], "as": ["k", "v"]}],
   "mark": {"type": "line", "strokeWidth": 3, "clip": true, "invalid": "filter"},
   "encoding": {
     "x": {"field": "t", "type": "temporal", "axis": null},
     "y": {"field": "v", "type": "quantitative", "axis": null},
     "color": {"field": "k", "type": "nominal",
       "scale": {"domain": ["m", "s", "mt", "me", "o"], "range": ["#000000", "#6f1fd8", "#1414e6", "#22c322", "#fb1cb4"]},
       "legend": {"orient": "none", "legendX": 92, "legendY": 19, "title": null, "direction": "vertical", "zindex": 2,
         "symbolType": "stroke", "symbolSize": 400, "symbolStrokeWidth": 3, "symbolOffset": 2,
         "labelOffset": 8, "labelFont": "Liberation Sans", "labelFontSize": 20.5, "labelFontWeight": "bold", "labelColor": "black", "labelLimit": 500,
         "padding": 11.5, "rowPadding": 0.3, "clipHeight": 23, "fillColor": "white", "strokeColor": "black",
         "labelExpr": "datum.value == 'm' ? 'Measured Isoprene Flux' : datum.value == 's' ? 'G93 Standard' : datum.value == 'mt' ? 'G93 Moss Temp' : datum.value == 'me' ? 'MEGAN' : 'G93 Optimised'",
         "encode": {
           "symbols": {"update": {
             "shape": {"signal": "datum.value == 'm' ? 'circle' : 'stroke'"},
             "size": {"signal": "datum.value == 'm' ? 110 : 1600"},
             "strokeWidth": {"value": 3},
             "fill": {"value": "transparent"}}},
           "legend": {"update": {"stroke": {"value": "black"}, "strokeWidth": {"value": 3}, "fill": {"value": "white"}}}
         }}}
   }
  },
  {
   "data": {"values": [{}]},
   "mark": {"type": "text", "text": "(a)", "font": "Liberation Sans", "fontSize": 23, "fontWeight": "bold", "align": "left", "baseline": "middle", "color": "black"},
   "encoding": {
     "x": {"datum": {"year": 2015, "month": 6, "date": 8, "hours": 7, "minutes": 25}, "type": "temporal", "axis": null},
     "y": {"datum": 2163, "type": "quantitative", "axis": null}
   }
  }
 ],
 "resolve": {"axis": {"x": "independent", "y": "independent"}}
},
{
 "layer": [
  {
   "data": {"name": "diur"},
   "transform": [{"fold": ["s", "me", "o", "mt"], "as": ["k", "v"]}],
   "mark": {"type": "line", "strokeWidth": 3.5, "invalid": "filter"},
   "encoding": {
     "x": {"field": "h", "type": "quantitative",
       "scale": {"domain": [0, 24], "range": [607, 1075], "nice": false, "zero": false},
       "axis": {"orient": "top", "zindex": 1, "offset": -42, "title": null, "labels": false, "grid": false, "values": [0, 6, 12, 18, 24], "tickSize": 14}},
     "y": {"field": "v", "type": "quantitative",
       "scale": {"domain": [-2, 226], "range": [470, 42], "nice": false, "zero": false},
       "axis": {"orient": "right", "zindex": 1, "offset": -58, "title": null, "labels": false, "grid": false, "values": [0, 50, 100, 150, 200], "tickSize": 12}},
     "color": {"field": "k", "type": "nominal",
       "scale": {"domain": ["m", "s", "mt", "me", "o"], "range": ["#000000", "#6f1fd8", "#1414e6", "#22c322", "#fb1cb4"]},
       "legend": null}
   }
  },
  {
   "data": {"name": "diur"},
   "mark": {"type": "point", "shape": "circle", "filled": false, "color": "black", "strokeWidth": 2.5, "size": 60, "opacity": 1},
   "encoding": {
     "x": {"field": "h", "type": "quantitative",
       "axis": {"orient": "bottom", "zindex": 1, "offset": -259, "title": "Hour [Local]", "titlePadding": 12, "grid": false, "values": [0, 6, 12, 18, 24], "tickSize": 12, "labelPadding": 8}},
     "y": {"field": "m", "type": "quantitative",
       "axis": {"orient": "left", "zindex": 1, "offset": -607, "title": "Isoprene Flux [µg m⁻² h⁻¹]", "titlePadding": 44, "grid": false, "values": [0, 50, 100, 150, 200], "tickSize": 12, "labelPadding": 6}}
   }
  },
  {
   "data": {"values": [{}]},
   "mark": {"type": "text", "text": "(b)", "font": "Liberation Sans", "fontSize": 23, "fontWeight": "bold", "align": "left", "baseline": "middle", "color": "black"},
   "encoding": {
     "x": {"datum": 1.75, "type": "quantitative", "axis": null},
     "y": {"datum": 210, "type": "quantitative", "axis": null}
   }
  }
 ],
 "resolve": {"axis": {"x": "independent", "y": "independent"}}
}
],
"resolve": {"scale": {"x": "independent", "y": "independent", "color": "independent"}, "axis": {"x": "independent", "y": "independent"}}
}
